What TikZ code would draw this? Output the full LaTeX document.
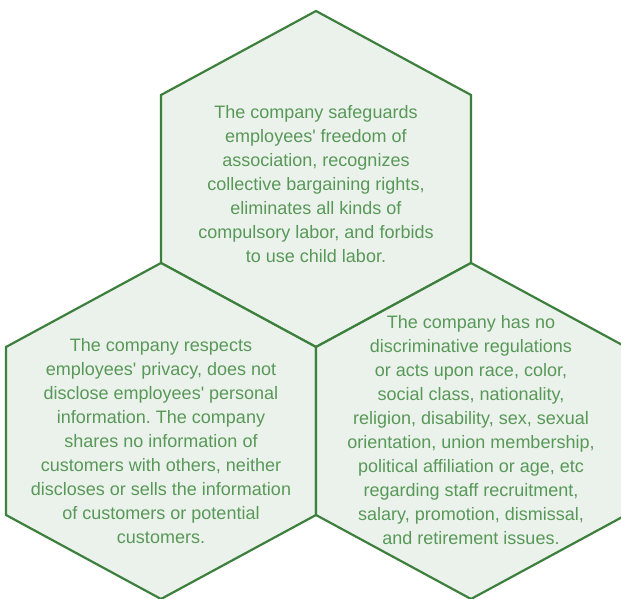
\documentclass[tikz,border=0pt]{standalone}
\usepackage{fontspec}
\setmainfont{Liberation Sans}[Ligatures=TeXOff]
\frenchspacing
\definecolor{hexline}{RGB}{61,128,61}
\definecolor{hexfill}{RGB}{235,242,235}
\definecolor{hextext}{RGB}{88,152,88}
\tikzset{
  cell/.style={draw=hexline, fill=hexfill, line width=2.2pt, line join=miter},
  celltext/.style={text=hextext, align=center, font=\fontsize{18}{24}\selectfont, inner sep=0pt}
}
\begin{document}
\begin{tikzpicture}[x=1pt,y=1pt]
    \useasboundingbox (0,0) rectangle (621,599);
    \clip (0,0) rectangle (621,599);
    % centres of the three cells
    \coordinate (top) at (316,420);
    \coordinate (left) at (161,168);
    \coordinate (right) at (471,168);
    \foreach \c in {top,left,right}{
        \draw[cell] (\c) ++(0,168) -- ++(155,-84) -- ++(0,-168) -- ++(-155,-84)
            -- ++(-155,84) -- ++(0,168) -- cycle;
    }
    \node[celltext] (toptext) at ([yshift=-5pt]top) {The company safeguards\\employees' freedom of\\association, recognizes\\collective bargaining rights,\\eliminates all kinds of\\compulsory labor, and forbids\\to use child labor.};
    \node[celltext] (lefttext) at ([yshift=-10pt]left) {The company respects\\employees' privacy, does not\\disclose employees' personal\\information. The company\\shares no information of\\customers with others, neither\\discloses or sells the information\\of customers or potential\\customers.};
    \node[celltext] (righttext) at ([yshift=1pt]right) {The company has no\\discriminative regulations\\or acts upon race, color,\\social class, nationality,\\religion, disability, sex, sexual\\orientation, union membership,\\political affiliation or age, etc\\regarding staff recruitment,\\salary, promotion, dismissal,\\and retirement issues.};
\end{tikzpicture}
\end{document}
